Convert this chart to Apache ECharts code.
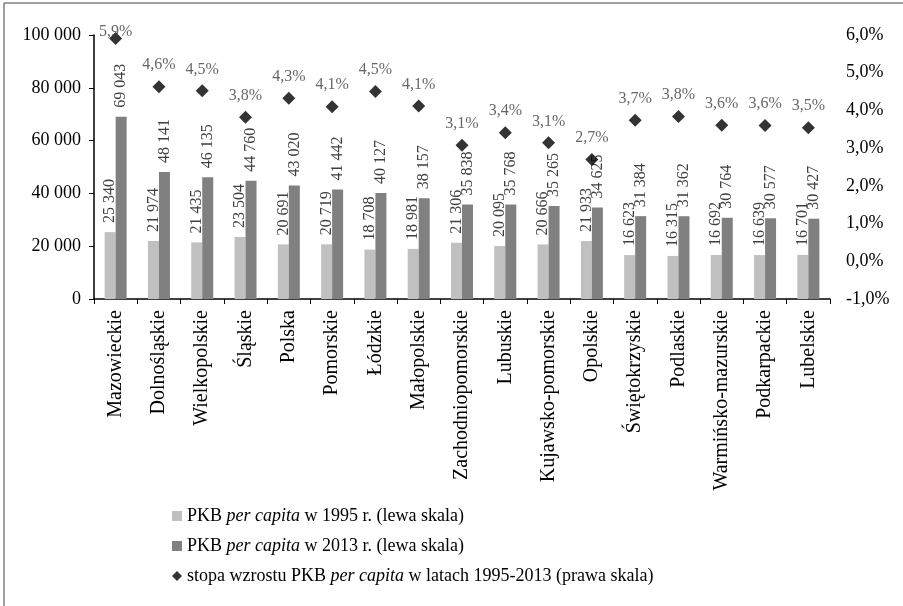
<!DOCTYPE html>
<html><head><meta charset="utf-8">
<script src="https://cdn.jsdelivr.net/npm/echarts@6/dist/echarts.min.js"></script>
<style>html,body{margin:0;padding:0;background:#fff}#c{width:903px;height:606px}</style>
</head><body><div id="c"></div>
<script>
const categories = ['Mazowieckie','Dolnośląskie','Wielkopolskie','Śląskie','Polska','Pomorskie','Łódzkie','Małopolskie','Zachodniopomorskie','Lubuskie','Kujawsko-pomorskie','Opolskie','Świętokrzyskie','Podlaskie','Warmińsko-mazurskie','Podkarpackie','Lubelskie'];
const gdp1995 = [25340,21974,21435,23504,20691,20719,18708,18981,21306,20095,20666,21933,16623,16315,16692,16639,16701];
const gdp2013 = [69043,48141,46135,44760,43020,41442,40127,38157,35838,35768,35265,34625,31384,31362,30764,30577,30427];
const growthRate = [5.91,4.63,4.52,3.82,4.32,4.10,4.50,4.12,3.08,3.41,3.14,2.70,3.74,3.84,3.61,3.60,3.54];
const leftTicks = {min:0,max:100000,interval:20000};
const rightTicks = {min:-1,max:6,interval:1};
const seriesNames = ['PKB per capita w 1995 r. (lewa skala)','PKB per capita w 2013 r. (lewa skala)','stopa wzrostu PKB per capita w latach 1995-2013 (prawa skala)'];

const FONT = 'Liberation Serif';
const fmtNum = v => String(Math.round(v)).replace(/\B(?=(\d{3})+(?!\d))/g,' ');
const fmtPct = v => v.toFixed(1).replace('.',',') + '%';

const chart = echarts.init(document.getElementById('c'));
const barLabel = {show:true,position:'top',rotate:90,align:'left',verticalAlign:'middle',distance:9,
  fontFamily:FONT,fontSize:16,color:'#404040',formatter:p=>fmtNum(p.value)};
chart.setOption({
  animation:false,
  backgroundColor:'#fff',
  textStyle:{fontFamily:FONT},
  graphic:[
    {type:'line',shape:{x1:4,y1:3,x2:903,y2:3},style:{stroke:'#808080',lineWidth:1.5}},
    {type:'line',shape:{x1:4,y1:3,x2:4,y2:606},style:{stroke:'#808080',lineWidth:1.5}}
  ],
  grid:{left:94,right:73,top:35,bottom:307,containLabel:false},
  legend:{
    orient:'vertical',left:167,top:502,itemGap:12,itemWidth:10,itemHeight:10,
    data:[{name:seriesNames[0],icon:'rect'},{name:seriesNames[1],icon:'rect'},{name:seriesNames[2],icon:'diamond'}],
    textStyle:{fontFamily:FONT,fontSize:18,color:'#000',
      rich:{i:{fontFamily:FONT,fontSize:18,fontStyle:'italic',color:'#000'},n:{fontFamily:FONT,fontSize:18,color:'#000'}}},
    formatter:name=>{
      const parts = name.split('per capita');
      return '{n|' + parts[0] + '}{i|per capita}{n|' + parts[1] + '}';
    }
  },
  xAxis:{
    type:'category',data:categories,boundaryGap:true,
    axisLine:{lineStyle:{color:'#000',width:1.5}},
    axisTick:{show:true,length:5,lineStyle:{color:'#000'}},
    axisLabel:{rotate:90,fontFamily:FONT,fontSize:20,color:'#000',margin:11,interval:0}
  },
  yAxis:[
    {type:'value',min:leftTicks.min,max:leftTicks.max,interval:leftTicks.interval,position:'left',
      splitLine:{show:false},
      axisLine:{show:true,lineStyle:{color:'#000',width:1.5}},
      axisTick:{show:true,length:5,lineStyle:{color:'#000'}},
      axisLabel:{fontFamily:FONT,fontSize:18,color:'#000',margin:13,formatter:fmtNum}},
    {type:'value',min:rightTicks.min,max:rightTicks.max,interval:rightTicks.interval,position:'right',
      splitLine:{show:false},
      axisLine:{show:false},axisTick:{show:false},
      axisLabel:{fontFamily:FONT,fontSize:18,color:'#000',margin:16,formatter:fmtPct}}
  ],
  series:[
    {name:seriesNames[0],type:'bar',data:gdp1995,barWidth:11,barGap:'0%',itemStyle:{color:'#c0c0c0'},label:barLabel},
    {name:seriesNames[1],type:'bar',data:gdp2013,barWidth:11,barGap:'0%',itemStyle:{color:'#808080'},label:barLabel},
    {name:seriesNames[2],type:'scatter',yAxisIndex:1,symbol:'diamond',symbolSize:13,
      itemStyle:{color:'#000'},
      data:growthRate.map((v,i)=>i===0?{value:v,label:{distance:-8}}:v),
      label:{show:true,position:'top',distance:7,fontFamily:FONT,fontSize:16,color:'#404040',
        formatter:p=>fmtPct(Array.isArray(p.value)?p.value[1]:p.value)}}
  ]
});
</script></body></html>
